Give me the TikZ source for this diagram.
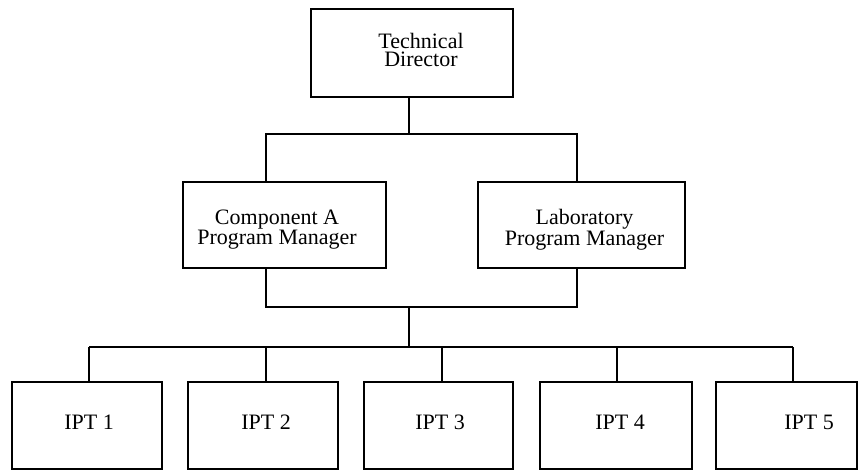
\documentclass[tikz,border=0pt]{standalone}
\usepackage{fontspec}
\setmainfont{Liberation Serif}
\begin{document}
\begin{tikzpicture}[x=1pt,y=-1pt,
  box/.style={draw,line width=1.8pt,rectangle,inner sep=0pt,minimum height=#1},
  box/.default=86pt,
  lbl/.style={font=\fontsize{22}{18.8}\selectfont,inner sep=0pt,align=center},
  conn/.style={line width=1.8pt,line join=miter}]
\useasboundingbox (0,0) rectangle (858,470);
% boxes
\node[box=88pt,minimum width=202pt] (td) at (412,53) {};
\node[box,minimum width=203pt] (ca) at (284.5,225) {};
\node[box,minimum width=207pt] (lab) at (581.5,225) {};
\node[box=87pt,minimum width=150pt] (i1) at (87,425.5) {};
\node[box=87pt,minimum width=150pt] (i2) at (263,425.5) {};
\node[box=87pt,minimum width=149pt] (i3) at (438.5,425.5) {};
\node[box=87pt,minimum width=152pt] (i4) at (616,425.5) {};
\node[box=87pt,minimum width=141pt] (i5) at (786.5,425.5) {};
% labels (base = baseline of last line)
\node[lbl,anchor=base] (ttd) at (421,67) {Technical\\Director};
\node[lbl,anchor=base] (tca) at (277,244.5) {Component A\\Program Manager};
\node[lbl,anchor=base] (tlab) at (584.5,245) {Laboratory\\Program Manager};
\node[lbl,anchor=base] (t1) at (89,429) {IPT 1};
\node[lbl,anchor=base] (t2) at (266,429) {IPT 2};
\node[lbl,anchor=base] (t3) at (440,429) {IPT 3};
\node[lbl,anchor=base] (t4) at (620,429) {IPT 4};
\node[lbl,anchor=base] (t5) at (809,429) {IPT 5};
% junction coordinates
\coordinate (jt) at (409,134);
\coordinate (jtl) at (266,134);
\coordinate (jtr) at (577,134);
\coordinate (jbl) at (266,307);
\coordinate (jbr) at (577,307);
\coordinate (jb) at (409,307);
\coordinate (jc) at (409,347);
\coordinate (s1) at (89,347);
\coordinate (s2) at (266,347);
\coordinate (s3) at (442,347);
\coordinate (s4) at (617,347);
\coordinate (s5) at (793,347);
% connectors
\draw[conn] (td.south -| jt) -- (jt);
\draw[conn] (ca.north -| jtl) -- (jtl) -- (jtr) -- (lab.north -| jtr);
\draw[conn] (ca.south -| jbl) -- (jbl) -- (jbr) -- (lab.south -| jbr);
\draw[conn] (jb) -- (jc);
\draw[conn] (s1) -- (s5);
\draw[conn] (s1) -- (i1.north -| s1);
\draw[conn] (s2) -- (i2.north -| s2);
\draw[conn] (s3) -- (i3.north -| s3);
\draw[conn] (s4) -- (i4.north -| s4);
\draw[conn] (s5) -- (i5.north -| s5);
\end{tikzpicture}
\end{document}
